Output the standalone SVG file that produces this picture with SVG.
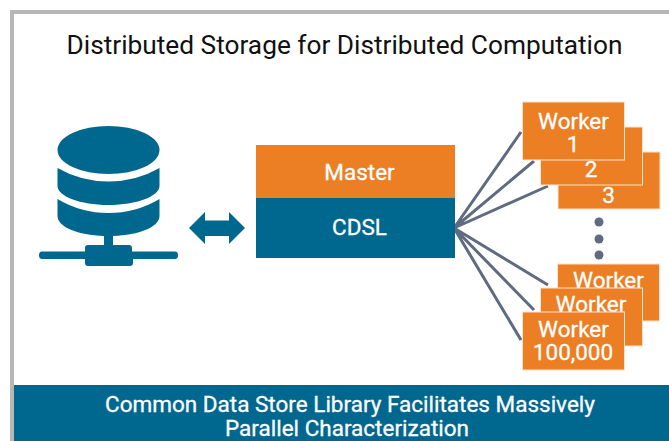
<svg xmlns="http://www.w3.org/2000/svg" width="669" height="441" viewBox="0 0 669 441">
<style>
text{font-family:Roboto,"Liberation Sans",sans-serif;text-anchor:middle}
.w{fill:#fff;font-size:22.500px;stroke:#fff;stroke-width:.3px}
.b{fill:#EC7E23;stroke:#FBE3CF;stroke-width:1}
.c{stroke:#5F6B80;stroke-width:3;fill:none}
.d{fill:#5F6B80}
.t{fill:#00688F}
</style>
<rect width="669" height="441" fill="#fff"/>
<path d="M12 441V12H669" fill="none" stroke="#B7B7B7" stroke-width="4"/>
<text x="344.500" y="54" font-size="26.250" fill="#111">Distributed Storage for Distributed Computation</text>
<g id="connectors">
<path class="c" d="M454 228L521 132M454 228L534 161M454 228L548 186M454 228L548 285M454 228L534 310M454 228L521 340"/>
</g>
<g id="database">
<ellipse class="t" cx="108.500" cy="150" rx="51" ry="24"/>
<path class="t" d="M57.500 168Q81 181.500 108.500 181.500T159.500 168V186C159.500 196 137 205 108.500 205S57.500 196 57.500 186Z"/>
<path class="t" d="M57.500 199Q81 213 108.500 213T159.500 199V216C159.500 227 139 235 113 236V245H129Q132 245 132 248V251.500H175Q178 251.500 178 255.250T175 259H133V263Q133 266 130 266H88Q85 266 85 263V259H42Q39 259 39 255.250T42 251.500H85V248Q85 245 88 245H104V236C78 235 57.500 227 57.500 216Z"/>
</g>
<g id="double-arrow">
<path class="t" d="M189 228L205 212V220.500H229V212L245 228L229 244V236H205V244Z"/>
</g>
<g id="master">
<rect x="256" y="145" width="199" height="53" fill="#EC7E23"/>
<text class="w" x="359.500" y="180">Master</text>
</g>
<g id="cdsl">
<rect class="t" x="256" y="198" width="199" height="60"/>
<text class="w" x="359.500" y="235">CDSL</text>
</g>
<g id="worker-3">
<rect class="b" x="558" y="152" width="102" height="57"/>
<text class="w" x="608.500" y="203">3</text>
</g>
<g id="worker-2">
<rect class="b" x="540.500" y="127" width="102" height="58"/>
<text class="w" x="591" y="177">2</text>
</g>
<g id="worker-1">
<rect class="b" x="522.500" y="102" width="102" height="58"/>
<text class="w" y="129"><tspan x="573.500">Worker</tspan><tspan x="573" dy="23">1</tspan></text>
</g>
<g id="ellipsis">
<circle class="d" cx="599" cy="222" r="4.500"/>
<circle class="d" cx="599" cy="239" r="4.500"/>
<circle class="d" cx="599" cy="255" r="4.500"/>
</g>
<g id="worker-n2">
<rect class="b" x="557.500" y="264" width="102" height="57"/>
<text class="w" x="608.500" y="288">Worker</text>
</g>
<g id="worker-n1">
<rect class="b" x="540.500" y="288" width="102" height="58"/>
<text class="w" x="591" y="312">Worker</text>
</g>
<g id="worker-100000">
<rect class="b" x="522.500" y="312" width="102" height="58"/>
<text class="w" y="337"><tspan x="573.500">Worker</tspan><tspan x="573" dy="23">100,000</tspan></text>
</g>
<g id="banner">
<rect class="t" x="14" y="385" width="655" height="56"/>
<text class="w" x="350" y="412" font-size="22.400">Common Data Store Library Facilitates Massively</text>
<text class="w" x="347" y="436" font-size="22.400">Parallel Characterization</text>
</g>
</svg>
